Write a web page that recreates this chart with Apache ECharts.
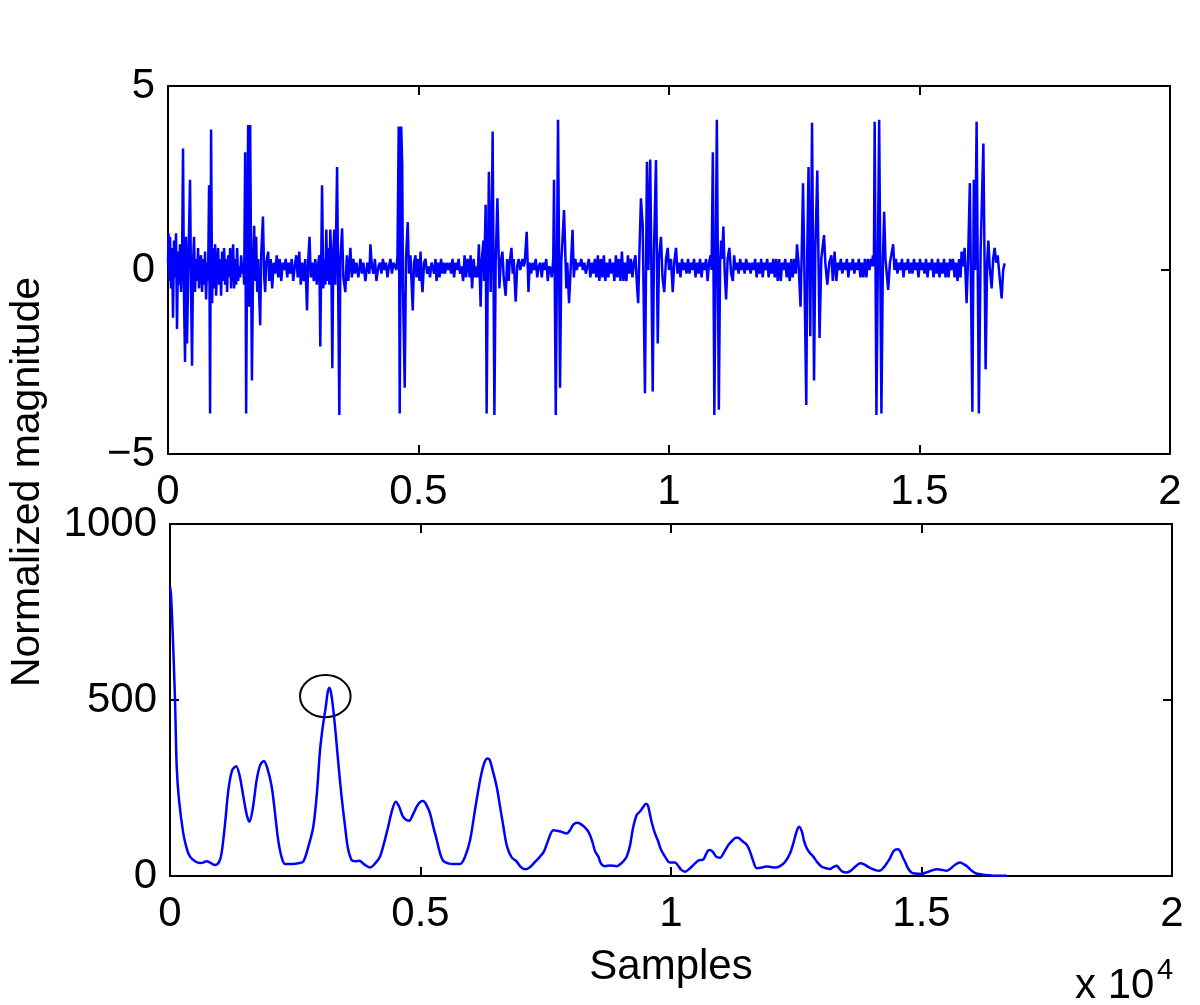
<!DOCTYPE html>
<html>
<head>
<meta charset="utf-8">
<script src="https://cdn.jsdelivr.net/npm/echarts@6/dist/echarts.min.js"></script>
<style>
html,body{margin:0;padding:0;background:#fff;}
#chart{width:1200px;height:1005px;}
</style>
</head>
<body>
<div id="chart"></div>
<script>
// ---- Data (x in samples) ----
const xTicks = [0, 5000, 10000, 15000, 20000];
const topYTicks = [-5, 0, 5];
const bottomYTicks = [0, 500, 1000];

// Top panel: filtered signal [sample, normalized value]
const topSignal = [
[0,0.2],[10,1.0],[20,-0.3],[40,0.9],[60,-0.5],[80,0.6],[100,-1.3],[120,0.8],[140,-0.2],[160,1.0],[180,-1.6],[200,0.5],[220,-0.4],[240,0.7],[260,-0.6],[280,0.2],[300,3.3],[320,-0.8],[340,-2.5],[360,0.9],[380,-2.0],[410,0.4],[440,2.45],[460,-0.5],[480,-2.6],[500,0.2],[520,0.9],[540,-0.6],[560,0.3],[580,-0.3],[600,0.6],[620,-0.5],[640,0.2],[660,0.4],[680,-0.6],[700,0.3],[720,-0.4],[740,0.5],[760,-0.8],[780,0.2],[800,-0.3],[820,2.3],[840,-3.9],[860,3.82],[880,-0.9],[900,0.6],[920,-0.5],[940,0.7],[960,-0.7],[980,0.2],[1000,0.6],[1020,-0.4],[1040,0.3],[1060,-0.7],[1080,0.5],[1100,-0.3],[1120,0.6],[1140,-0.4],[1160,0.3],[1180,-0.6],[1200,0.4],[1220,-0.2],[1240,0.6],[1260,-0.5],[1280,0.2],[1300,0.7],[1320,-0.5],[1340,0.3],[1360,-0.4],[1380,0.6],[1400,-0.3],[1420,0.1],[1440,-0.2],[1460,0.4],[1480,-0.1],[1500,0.2],[1520,-0.4],[1540,3.2],[1560,-3.9],[1580,1.0],[1600,3.94],[1620,-1.0],[1640,3.94],[1660,-0.2],[1675,-3.0],[1700,0.3],[1720,1.2],[1740,-0.3],[1760,0.9],[1780,-0.6],[1800,0.3],[1820,-0.7],[1840,-1.5],[1860,0.4],[1895,1.45],[1920,-0.2],[1940,-0.6],[1960,0.2],[2000,0.5],[2020,-0.3],[2050,0.3],[2080,-0.5],[2110,0.2],[2140,-0.1],[2170,0.4],[2200,-0.2],[2230,0.3],[2260,-0.3],[2290,0.2],[2320,0.0],[2350,0.3],[2380,-0.2],[2410,0.2],[2440,-0.1],[2470,0.3],[2500,-0.3],[2530,0.1],[2560,0.4],[2590,-0.2],[2620,0.5],[2650,-0.4],[2680,0.2],[2710,-0.3],[2740,0.3],[2775,-1.1],[2800,0.3],[2825,0.9],[2850,-0.2],[2880,0.2],[2910,-0.3],[2940,0.3],[2970,-0.4],[3000,0.2],[3020,0.4],[3040,-2.08],[3075,2.3],[3100,-0.5],[3120,0.3],[3140,-0.4],[3160,1.1],[3180,-0.3],[3200,0.6],[3220,-0.4],[3240,1.1],[3260,0.2],[3280,-2.67],[3300,0.5],[3320,1.1],[3340,-0.4],[3375,2.8],[3420,-3.94],[3440,0.3],[3475,1.13],[3500,-0.2],[3540,-0.6],[3570,0.4],[3600,-0.3],[3640,0.6],[3670,-0.2],[3700,0.3],[3730,-0.1],[3760,0.2],[3800,-0.2],[3840,0.3],[3870,-0.1],[3900,0.2],[3940,-0.3],[3980,0.2],[4020,-0.1],[4040,0.7],[4070,0.1],[4100,-0.1],[4130,0.3],[4160,-0.3],[4200,0.1],[4230,0.2],[4260,-0.1],[4290,0.3],[4320,0.0],[4350,0.2],[4380,-0.2],[4410,0.1],[4440,0.3],[4470,-0.1],[4500,0.2],[4530,0.1],[4560,0.0],[4580,0.4],[4605,3.9],[4625,-3.9],[4655,3.9],[4675,2.85],[4690,-0.5],[4725,-3.2],[4750,0.3],[4785,1.3],[4810,-0.1],[4840,0.4],[4860,-0.3],[4885,-1.1],[4910,0.2],[4940,0.4],[4960,-0.2],[4990,0.3],[5020,-0.3],[5040,0.5],[5060,-0.2],[5080,-0.6],[5110,0.2],[5140,0.3],[5170,-0.1],[5200,0.1],[5230,-0.2],[5260,0.2],[5280,0.1],[5310,-0.1],[5340,0.3],[5360,-0.3],[5390,0.2],[5420,-0.2],[5450,0.3],[5480,-0.1],[5500,0.2],[5530,-0.1],[5560,0.2],[5590,0.0],[5620,0.2],[5650,-0.1],[5680,0.3],[5710,-0.2],[5740,0.2],[5770,0.0],[5800,0.3],[5830,-0.1],[5860,0.1],[5890,-0.3],[5920,0.4],[5950,-0.2],[5980,0.3],[6000,0.2],[6020,-0.2],[6040,0.4],[6070,-0.5],[6100,0.3],[6130,-0.2],[6160,0.1],[6180,-0.2],[6205,0.7],[6240,-1.0],[6260,0.2],[6295,0.8],[6310,-0.3],[6340,1.77],[6360,-3.9],[6380,-0.5],[6405,2.67],[6440,-0.6],[6460,1.0],[6480,3.76],[6515,-3.94],[6540,0.2],[6575,1.95],[6615,-0.5],[6640,0.2],[6675,0.5],[6700,-0.2],[6740,-0.7],[6770,0.3],[6800,-0.3],[6820,0.2],[6855,0.6],[6880,-0.1],[6900,0.3],[6940,-0.86],[6970,0.1],[7000,0.3],[7030,0.0],[7075,0.3],[7100,0.1],[7120,0.2],[7160,1.04],[7195,-0.6],[7220,0.2],[7250,-0.1],[7280,0.2],[7310,0.0],[7340,0.3],[7370,-0.2],[7400,0.1],[7430,0.2],[7460,-0.2],[7490,0.2],[7520,0.0],[7550,0.3],[7580,-0.3],[7610,0.1],[7640,0.0],[7660,-0.2],[7690,0.3],[7705,2.45],[7740,-3.94],[7785,4.08],[7825,-3.2],[7850,0.2],[7905,1.63],[7950,-0.5],[7970,0.2],[8005,-0.9],[8040,0.1],[8075,1.09],[8100,-0.2],[8130,0.3],[8160,0.0],[8190,0.2],[8220,0.1],[8250,0.3],[8280,0.0],[8310,0.2],[8340,-0.1],[8370,0.1],[8400,0.3],[8430,-0.2],[8460,0.2],[8490,-0.1],[8520,0.3],[8550,-0.2],[8580,0.4],[8610,-0.3],[8640,0.3],[8670,-0.2],[8700,0.4],[8730,-0.3],[8760,0.2],[8790,-0.2],[8820,0.3],[8850,-0.1],[8880,0.2],[8910,-0.3],[8940,0.4],[8970,-0.2],[9000,0.3],[9030,-0.3],[9060,0.5],[9090,-0.3],[9120,0.2],[9150,-0.3],[9180,0.4],[9210,-0.1],[9240,0.3],[9270,-0.2],[9300,0.2],[9330,0.4],[9360,-0.4],[9385,-0.9],[9410,0.5],[9440,1.95],[9475,1.2],[9520,-3.35],[9560,2.94],[9590,0.0],[9625,3.0],[9675,-3.3],[9700,0.5],[9740,2.99],[9775,-2.0],[9800,0.3],[9840,0.9],[9870,-0.2],[9905,-0.6],[9940,0.3],[9975,0.6],[10000,0.0],[10040,0.3],[10075,-0.6],[10105,0.2],[10140,0.6],[10170,-0.1],[10200,0.2],[10230,-0.2],[10260,0.3],[10290,0.0],[10320,0.2],[10350,-0.1],[10380,0.3],[10410,-0.1],[10440,0.2],[10470,0.0],[10500,0.3],[10530,-0.2],[10560,0.2],[10590,-0.1],[10620,0.3],[10650,-0.2],[10680,0.2],[10710,0.0],[10740,0.3],[10770,-0.3],[10800,0.2],[10830,0.4],[10850,0.0],[10875,3.2],[10905,-3.94],[10955,4.08],[10995,-3.8],[11020,0.2],[11040,0.8],[11060,0.3],[11085,1.18],[11110,0.0],[11140,-0.8],[11170,0.3],[11205,0.6],[11240,-0.1],[11275,-0.3],[11300,0.4],[11330,0.0],[11360,0.2],[11390,-0.1],[11420,0.3],[11450,0.0],[11480,0.2],[11510,-0.1],[11540,0.3],[11570,0.0],[11600,0.2],[11630,-0.1],[11660,0.2],[11690,0.0],[11720,0.3],[11750,-0.2],[11780,0.2],[11810,-0.1],[11840,0.3],[11870,-0.2],[11900,0.2],[11930,0.0],[11960,0.3],[11990,-0.2],[12020,0.2],[12050,-0.1],[12080,0.3],[12110,-0.2],[12140,0.3],[12170,-0.3],[12200,0.3],[12230,-0.3],[12260,0.2],[12290,0.0],[12320,0.3],[12350,-0.2],[12380,0.2],[12410,-0.3],[12440,0.3],[12470,-0.2],[12500,0.3],[12530,-0.1],[12555,0.7],[12585,0.2],[12625,-1.0],[12650,0.5],[12675,2.36],[12700,0.2],[12740,-3.67],[12760,0.5],[12785,2.8],[12820,-1.8],[12855,4.0],[12895,-3.0],[12920,0.5],[12960,2.7],[13005,-1.85],[13040,0.3],[13095,0.95],[13120,0.2],[13160,-0.4],[13200,0.2],[13240,0.4],[13270,-0.3],[13305,0.5],[13340,-0.3],[13370,0.2],[13400,0.0],[13430,0.3],[13460,-0.1],[13490,0.2],[13520,0.0],[13550,0.3],[13580,-0.2],[13610,0.2],[13640,0.0],[13670,0.3],[13700,-0.1],[13730,0.2],[13760,0.0],[13790,0.3],[13820,-0.2],[13850,0.2],[13880,-0.2],[13910,0.3],[13940,-0.2],[13970,0.3],[14000,0.0],[14030,0.3],[14050,0.1],[14070,0.4],[14090,0.1],[14105,4.03],[14140,-3.94],[14195,4.08],[14240,-3.9],[14270,0.3],[14295,1.58],[14320,0.3],[14375,-0.54],[14410,0.2],[14475,0.7],[14500,0.0],[14530,0.3],[14560,-0.1],[14590,0.2],[14620,0.0],[14650,0.3],[14680,-0.2],[14710,0.2],[14740,0.0],[14770,0.3],[14800,-0.1],[14830,0.2],[14860,-0.1],[14890,0.3],[14920,0.0],[14950,0.2],[14980,-0.2],[15010,0.3],[15040,0.0],[15070,0.2],[15100,-0.1],[15130,0.3],[15160,-0.2],[15190,0.2],[15220,0.0],[15250,0.3],[15280,-0.2],[15310,0.2],[15340,-0.1],[15370,0.3],[15400,-0.2],[15430,0.2],[15460,-0.1],[15490,0.3],[15520,-0.2],[15550,0.2],[15580,-0.2],[15610,0.3],[15640,0.0],[15670,0.3],[15700,-0.2],[15730,0.2],[15760,-0.3],[15790,0.3],[15820,-0.2],[15840,0.5],[15870,0.1],[15900,0.6],[15940,-0.9],[15970,0.3],[16005,2.36],[16055,-3.85],[16085,2.45],[16110,0.0],[16140,4.03],[16185,-3.9],[16220,0.5],[16275,3.44],[16320,-2.7],[16350,0.2],[16375,0.8],[16400,0.1],[16440,-0.5],[16470,0.3],[16500,0.6],[16530,0.2],[16560,0.4],[16600,-0.2],[16640,-0.77],[16670,0.0],[16700,0.18]
];

// Bottom panel: autocorrelation-like magnitude [sample, value]
const bottomCurve = [
[0,822],[20,800],[54,690],[100,500],[134,310],[180,216],[265,121],[340,75],[400,55],[500,42],[600,37],[660,38],[733,42],[800,38],[900,31],[980,40],[1030,65],[1100,150],[1165,244],[1240,300],[1320,312],[1390,285],[1465,225],[1530,175],[1585,154],[1650,190],[1730,273],[1800,315],[1875,327],[1945,305],[2030,254],[2095,180],[2160,102],[2225,55],[2295,34],[2460,34],[2555,36],[2660,41],[2755,80],[2860,140],[2935,240],[2995,358],[3055,430],[3110,481],[3145,520],[3180,535],[3215,520],[3260,472],[3310,400],[3360,320],[3425,225],[3495,140],[3550,80],[3625,45],[3695,42],[3780,43],[3875,33],[3990,24],[4090,35],[4190,55],[4275,95],[4355,140],[4430,185],[4505,211],[4570,198],[4645,170],[4710,160],[4775,157],[4850,175],[4925,197],[4990,210],[5055,213],[5125,200],[5190,178],[5255,140],[5325,102],[5390,65],[5455,43],[5550,36],[5655,34],[5790,34],[5890,55],[5990,102],[6090,190],[6190,273],[6270,320],[6335,334],[6380,330],[6450,295],[6520,254],[6585,200],[6655,140],[6725,85],[6820,53],[6920,41],[7005,25],[7085,19],[7185,25],[7285,40],[7385,55],[7465,70],[7545,100],[7650,130],[7745,128],[7825,125],[7920,121],[7985,130],[8045,145],[8120,151],[8185,149],[8265,140],[8350,126],[8425,100],[8485,70],[8550,55],[8605,35],[8685,28],[8780,30],[8915,28],[8980,33],[9050,42],[9115,55],[9180,85],[9240,135],[9315,173],[9380,183],[9440,195],[9500,205],[9540,200],[9580,175],[9620,150],[9680,121],[9740,100],[9800,75],[9880,55],[9980,38],[10080,38],[10140,30],[10200,18],[10280,12],[10380,22],[10480,36],[10560,45],[10645,47],[10700,62],[10740,72],[10780,74],[10840,68],[10900,55],[10980,52],[11060,68],[11145,88],[11240,103],[11295,109],[11340,109],[11415,100],[11515,88],[11575,70],[11635,45],[11710,22],[11815,24],[11895,27],[11975,26],[12075,24],[12175,28],[12275,40],[12375,64],[12455,100],[12515,130],[12560,140],[12615,125],[12655,100],[12710,79],[12775,65],[12840,55],[12915,40],[13010,26],[13095,22],[13175,20],[13235,25],[13310,29],[13355,22],[13415,13],[13495,10],[13575,14],[13675,26],[13775,36],[13855,33],[13935,26],[14015,20],[14095,16],[14170,15],[14250,25],[14310,37],[14370,50],[14430,68],[14480,75],[14535,76],[14590,66],[14630,52],[14670,41],[14730,22],[14805,9],[14870,7],[15005,6],[15090,10],[15190,15],[15305,19],[15390,18],[15505,15],[15570,20],[15670,32],[15770,38],[15850,33],[15930,25],[16010,14],[16090,7],[16170,5],[16265,3],[16365,2],[16465,1],[16565,1],[16700,1]
];

// Highlighted peak: [centre sample, centre value, half-width (samples), half-height (value)]
const peakMark = [[3100, 511, 505, 60]];

// ---- Chart ----
const FONT = "'Liberation Sans', Arial, Helvetica, sans-serif";
const chart = echarts.init(document.getElementById('chart'), null, {renderer: 'canvas'});

function xAxisCfg(grid, pos, labels) {
  return {
    type: 'value', gridIndex: grid, position: pos,
    min: xTicks[0], max: xTicks[xTicks.length - 1], interval: xTicks[1] - xTicks[0],
    axisLine: {show: true, onZero: false, lineStyle: {color: '#000', width: 2}},
    axisTick: {show: true, inside: true, length: 9, lineStyle: {color: '#000', width: 2}},
    axisLabel: {show: labels, color: '#000', fontSize: 42, fontFamily: FONT, margin: 17,
      showMinLabel: true, showMaxLabel: true,
      formatter: v => String(v / 10000)},
    splitLine: {show: false}
  };
}
function yAxisCfg(grid, pos, labels, ticks) {
  return {
    type: 'value', gridIndex: grid, position: pos,
    min: ticks[0], max: ticks[ticks.length - 1], interval: ticks[1] - ticks[0],
    axisLine: {show: true, onZero: false, lineStyle: {color: '#000', width: 2}},
    axisTick: {show: true, inside: true, length: 9, lineStyle: {color: '#000', width: 2}},
    axisLabel: {show: labels, color: '#000', fontSize: 42, fontFamily: FONT, margin: 13,
      showMinLabel: true, showMaxLabel: true,
      formatter: v => String(v).replace('-', '\u2212')},
    splitLine: {show: false}
  };
}

const option = {
  animation: false,
  backgroundColor: '#fff',
  grid: [
    {left: 168, top: 86, width: 1002, height: 368},
    {left: 170, top: 524, width: 1002, height: 352}
  ],
  xAxis: [
    xAxisCfg(0, 'bottom', true), xAxisCfg(0, 'top', false),
    xAxisCfg(1, 'bottom', true), xAxisCfg(1, 'top', false)
  ],
  yAxis: [
    yAxisCfg(0, 'left', true, topYTicks), yAxisCfg(0, 'right', false, topYTicks),
    yAxisCfg(1, 'left', true, bottomYTicks), yAxisCfg(1, 'right', false, bottomYTicks)
  ],
  series: [
    {type: 'line', xAxisIndex: 0, yAxisIndex: 0, data: topSignal, showSymbol: false,
     lineStyle: {color: '#0000ff', width: 2.5}, clip: true},
    {type: 'line', xAxisIndex: 2, yAxisIndex: 2, data: bottomCurve, showSymbol: false, smooth: 0.3,
     lineStyle: {color: '#0000ff', width: 2.5}, clip: true},
    {type: 'custom', xAxisIndex: 2, yAxisIndex: 2, data: peakMark, clip: false,
     renderItem: function (params, api) {
       const c = api.coord([api.value(0), api.value(1)]);
       const e = api.coord([api.value(0) + api.value(2), api.value(1) + api.value(3)]);
       return {type: 'ellipse',
         shape: {cx: c[0], cy: c[1], rx: Math.abs(e[0] - c[0]), ry: Math.abs(c[1] - e[1])},
         style: {fill: null, stroke: '#000', lineWidth: 2}};
     }}
  ],
  graphic: [
    {type: 'text', x: 28, y: 482, rotation: Math.PI / 2,
     style: {text: 'Normalized magnitude', fontSize: 41, fontFamily: FONT, fill: '#000',
       align: 'center', verticalAlign: 'middle'}},
    {type: 'text', x: 671, y: 967,
     style: {text: 'Samples', fontSize: 42, fontFamily: FONT, fill: '#000',
       align: 'center', verticalAlign: 'middle'}},
    {type: 'text', x: 1075, y: 986,
     style: {text: 'x 10', fontSize: 42, fontFamily: FONT, fill: '#000',
       align: 'left', verticalAlign: 'middle'}},
    {type: 'text', x: 1157, y: 971,
     style: {text: '4', fontSize: 29, fontFamily: FONT, fill: '#000',
       align: 'left', verticalAlign: 'middle'}}
  ]
};
chart.setOption(option);
</script>
</body>
</html>
